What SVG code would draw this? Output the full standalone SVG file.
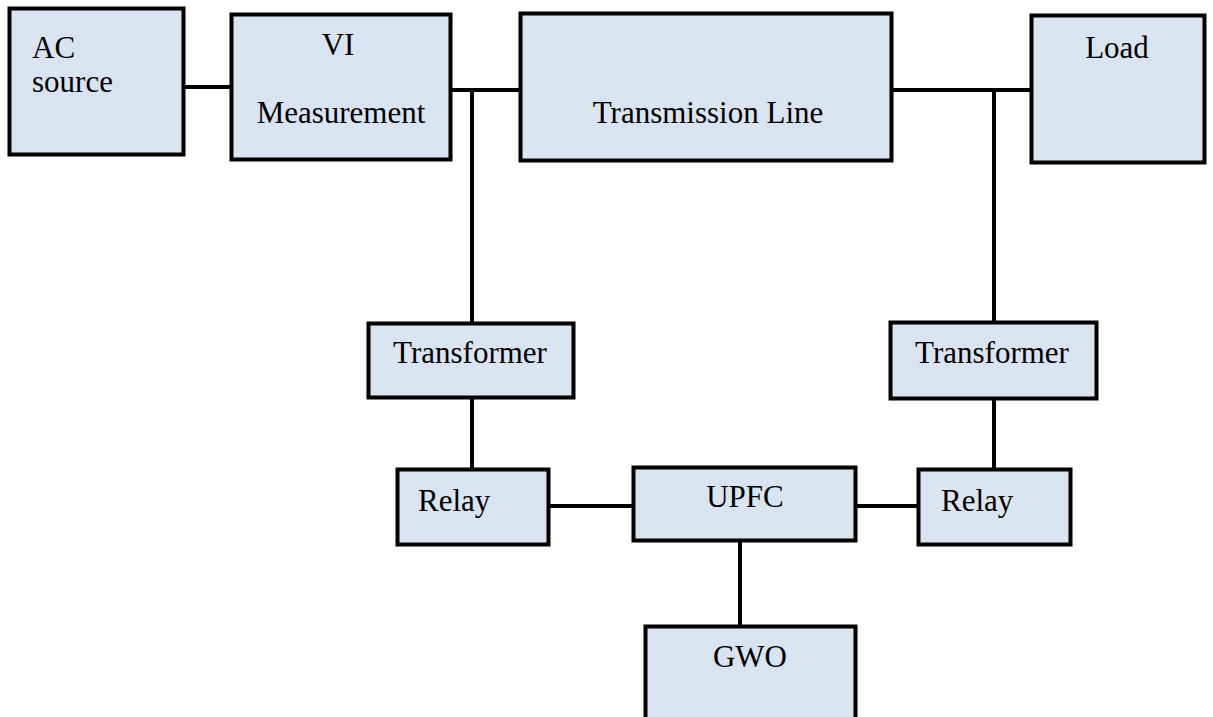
<svg xmlns="http://www.w3.org/2000/svg" width="1213" height="717" viewBox="0 0 1213 717">
<style>
.box{fill:#dae3f0;stroke:#000;stroke-width:4}
.wire{stroke:#000;stroke-width:4;fill:none}
text{font-family:'Liberation Serif','Times New Roman','DejaVu Serif',serif;font-size:31px;fill:#000}
</style>
<rect width="1213" height="717" fill="#fff"/>
<g id="connectors">
<line class="wire" x1="184" y1="87" x2="231" y2="87"/>
<line class="wire" x1="451" y1="90" x2="520" y2="90"/>
<line class="wire" x1="472" y1="90" x2="472" y2="323"/>
<line class="wire" x1="892" y1="90" x2="1031" y2="90"/>
<line class="wire" x1="994" y1="90" x2="994" y2="322"/>
<line class="wire" x1="472" y1="397" x2="472" y2="469"/>
<line class="wire" x1="994" y1="398" x2="994" y2="469"/>
<line class="wire" x1="549" y1="506" x2="633" y2="506" stroke-width="3"/>
<line class="wire" x1="856" y1="506" x2="918" y2="506" stroke-width="3"/>
<line class="wire" x1="740" y1="541" x2="740" y2="626"/>
</g>
<g id="ac-source"><rect class="box" x="9.5" y="8.5" width="174" height="146"/><text x="32" y="58">AC</text><text x="32" y="92">source</text></g>
<g id="vi-measurement"><rect class="box" x="231.5" y="14.5" width="219" height="145"/><text x="338" y="55" text-anchor="middle">VI</text><text x="341" y="123" text-anchor="middle">Measurement</text></g>
<g id="transmission-line"><rect class="box" x="520.5" y="13.5" width="371" height="147"/><text x="708" y="123" text-anchor="middle">Transmission Line</text></g>
<g id="load"><rect class="box" x="1031.5" y="15.5" width="173" height="147"/><text x="1117" y="58" text-anchor="middle">Load</text></g>
<g id="transformer-left"><rect class="box" x="368.5" y="323.5" width="205" height="74"/><text x="470" y="363" text-anchor="middle">Transformer</text></g>
<g id="transformer-right"><rect class="box" x="890.5" y="322.5" width="206" height="76"/><text x="992" y="363" text-anchor="middle">Transformer</text></g>
<g id="relay-left"><rect class="box" x="397.5" y="469.5" width="151" height="75"/><text x="418" y="511">Relay</text></g>
<g id="upfc"><rect class="box" x="633.5" y="467.5" width="222" height="73"/><text x="745" y="507" text-anchor="middle">UPFC</text></g>
<g id="relay-right"><rect class="box" x="918.5" y="469.5" width="152" height="75"/><text x="941" y="511">Relay</text></g>
<g id="gwo"><rect class="box" x="645.5" y="626.5" width="210" height="100"/><text x="750" y="667" text-anchor="middle">GWO</text></g>
</svg>
